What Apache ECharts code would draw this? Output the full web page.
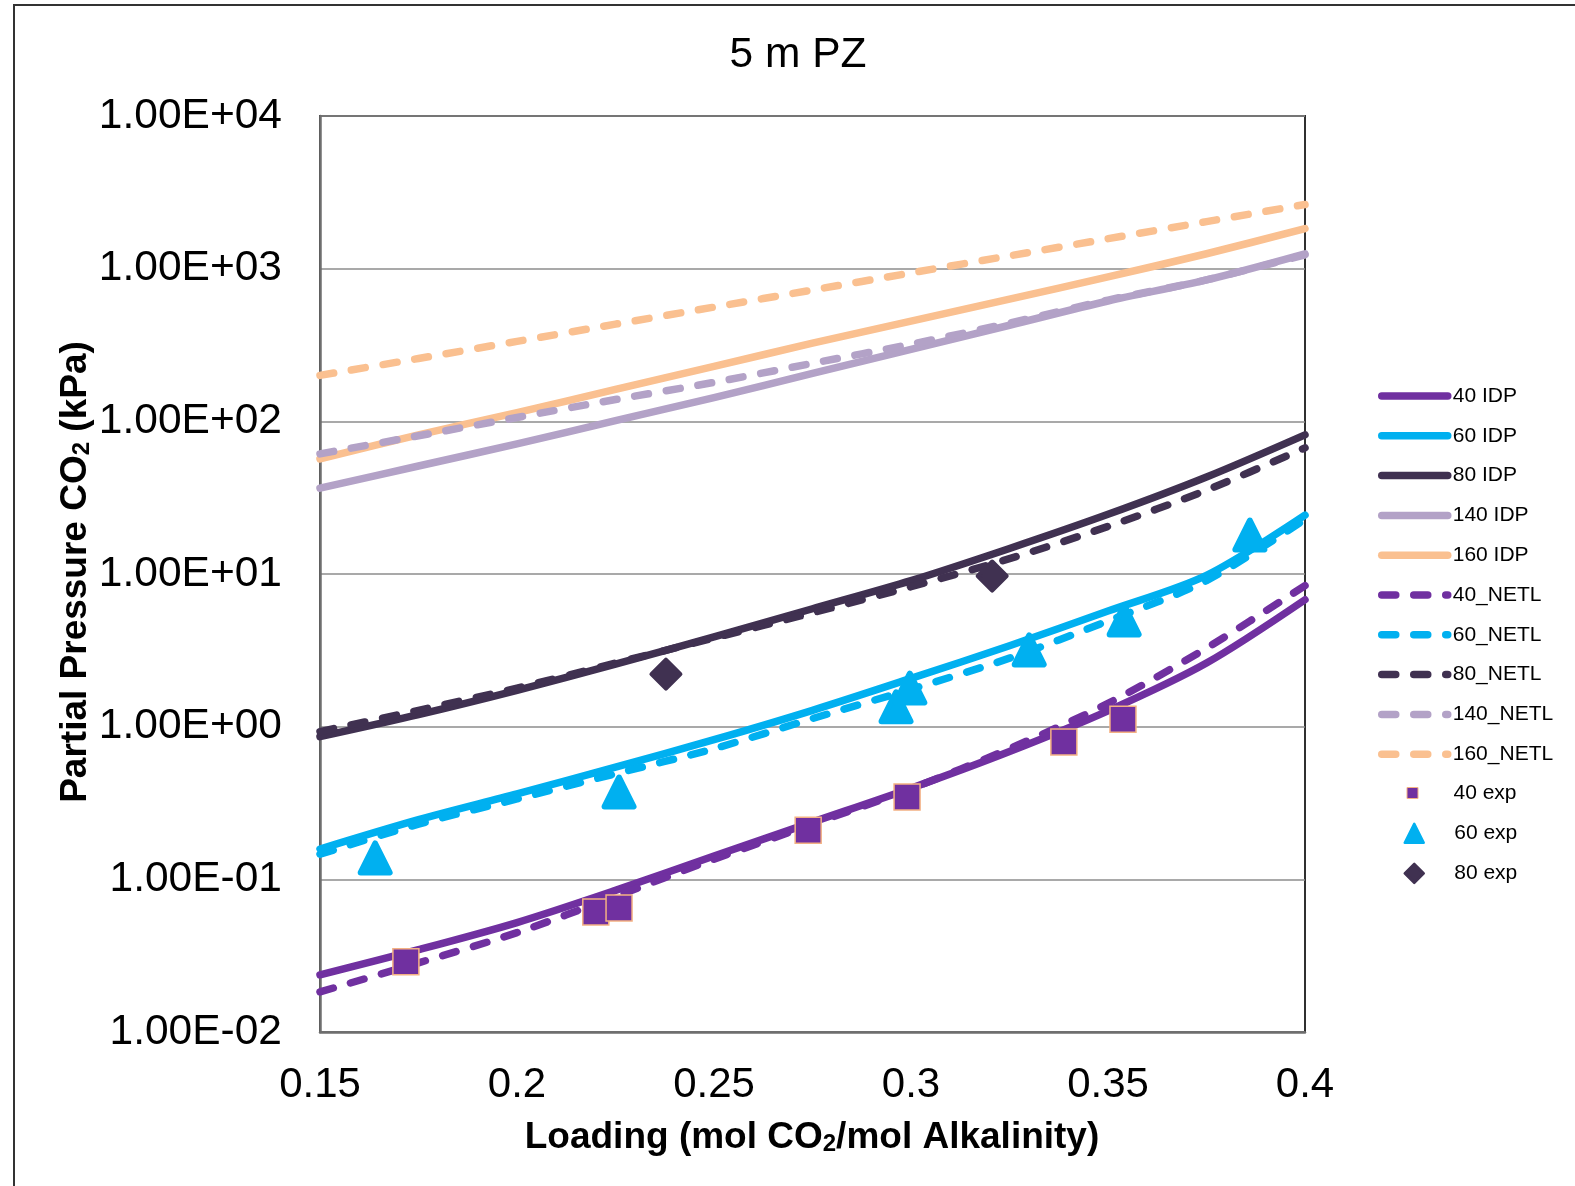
<!DOCTYPE html>
<html>
<head>
<meta charset="utf-8">
<script src="https://cdn.jsdelivr.net/npm/echarts@6/dist/echarts.min.js"></script>
<style>
  html, body { margin: 0; padding: 0; background: #fff; }
  #main { width: 1575px; height: 1186px; }
</style>
</head>
<body>
<div id="main"></div>
<script>
// loading grid for the model curves
const loading = [0.15, 0.175, 0.2, 0.225, 0.25, 0.275, 0.3, 0.325, 0.35, 0.375, 0.4];

const idp40 = [0.0237, 0.0346, 0.0521, 0.0847, 0.142, 0.237, 0.395, 0.687, 1.27, 2.61, 6.78];
const idp60 = [0.158, 0.246, 0.363, 0.543, 0.822, 1.28, 2.07, 3.39, 5.72, 9.80, 24.3];
const idp80 = [0.861, 1.20, 1.73, 2.57, 3.87, 5.92, 9.05, 14.7, 24.6, 43.2, 81.6];
const idp140 = [36.5, 51.0, 71.2, 101, 143, 206, 296, 426, 614, 844, 1252];
const idp160 = [56.7, 81.6, 114, 162, 229, 325, 453, 632, 883, 1252, 1829];

const netl40 = [0.0183, 0.0284, 0.0448, 0.0773, 0.1355, 0.230, 0.392, 0.718, 1.42, 3.27, 8.39];
const netl60 = [0.146, 0.230, 0.336, 0.492, 0.718, 1.13, 1.76, 2.81, 4.93, 9.05, 22.8];
const netl80 = [0.929, 1.28, 1.79, 2.61, 3.81, 5.57, 8.26, 12.6, 20.5, 35.4, 67.0];
const netl140 = [61.2, 80.4, 106, 139, 180, 240, 320, 440, 623, 844, 1233];
const netl160 = [200, 258, 334, 433, 560, 725, 938, 1214, 1571, 2033, 2632];

// experimental points
const exp40x = [0.1718, 0.2200, 0.2259, 0.2739, 0.2990, 0.3388, 0.3538];
const exp40y = [0.0288, 0.0611, 0.0649, 0.210, 0.346, 0.794, 1.12];
const exp60x = [0.1640, 0.2259, 0.2962, 0.2997, 0.3300, 0.3541, 0.3860];
const exp60y = [0.138, 0.373, 1.35, 1.79, 3.18, 5.00, 18.0];
const exp80x = [0.2378, 0.3206];
const exp80y = [2.21, 9.70];

const xTicks = [0.15, 0.2, 0.25, 0.3, 0.35, 0.4];

const colors = {
  t40: '#7030A0',
  t60: '#00B0F0',
  t80: '#403151',
  t140: '#B3A2C7',
  t160: '#FAC090'
};

const chart = echarts.init(document.getElementById('main'));

function pairs(xs, ys) {
  return xs.map((x, i) => [x, ys[i]]);
}

function sciLabel(v) {
  let e = Math.round(Math.log10(v));
  let sign = e < 0 ? '-' : '+';
  return '1.00E' + sign + String(Math.abs(e)).padStart(2, '0');
}

function lineSeries(name, ys, color, dashed) {
  return {
    name: name,
    type: 'line',
    data: pairs(loading, ys),
    smooth: 0.3,
    symbol: 'none',
    showSymbol: false,
    lineStyle: {
      color: color,
      width: 7.5,
      type: dashed ? [14, 18] : 'solid',
      cap: 'round',
      join: 'round'
    },
    itemStyle: { color: color },
    z: dashed ? 3 : 2,
    animation: false
  };
}

const font = 'Liberation Sans, Arial, sans-serif';
const legendText = { fontFamily: font, fontSize: 21, color: '#000' };

const option = {
  backgroundColor: '#fff',
  animation: false,
  title: {
    text: '5 m PZ',
    left: 793,
    top: 29,
    textAlign: 'center',
    textStyle: { fontFamily: font, fontSize: 42.5, fontWeight: 'normal', color: '#000' }
  },
  grid: {
    left: 320,
    top: 116,
    right: 270,
    bottom: 154,
    show: true,
    borderColor: '#303030',
    borderWidth: 2
  },
  legend: [
    {
      data: ['40 IDP', '60 IDP', '80 IDP', '140 IDP', '160 IDP',
        '40_NETL', '60_NETL', '80_NETL', '140_NETL', '160_NETL'],
      orient: 'vertical',
      left: 1373,
      top: 380.5,
      itemWidth: 66,
      itemHeight: 14,
      itemGap: 18.8,
      itemStyle: { opacity: 0 },
      lineStyle: { width: 7.5, cap: 'round' },
      textStyle: legendText
    },
    {
      data: [{ name: '40 exp', itemStyle: { borderWidth: 1 } }],
      orient: 'vertical',
      left: 1401.5,
      top: 777.5,
      itemWidth: 11,
      itemHeight: 11,
      textStyle: Object.assign({ padding: [0, 0, 0, 30.5] }, legendText)
    },
    {
      data: [{ name: '60 exp', itemStyle: { borderWidth: 2.5 } }, { name: '80 exp', itemStyle: { borderWidth: 2.5 } }],
      orient: 'vertical',
      left: 1398.5,
      top: 817.5,
      itemWidth: 19,
      itemHeight: 19,
      itemGap: 18.6,
      textStyle: Object.assign({ padding: [0, 0, 0, 25.5] }, legendText)
    }
  ],
  xAxis: {
    type: 'value',
    min: 0.15,
    max: 0.4,
    interval: 0.05,
    axisLine: { show: true, lineStyle: { color: '#6e6e6e', width: 2.5 } },
    axisTick: { show: false },
    splitLine: { show: false },
    axisLabel: {
      margin: 32,
      fontFamily: font,
      fontSize: 42,
      color: '#000',
      customValues: xTicks,
      formatter: function (v) { return String(+v.toFixed(2)); }
    }
  },
  yAxis: {
    type: 'log',
    logBase: 10,
    min: 0.01,
    max: 10000,
    axisLine: { show: true, lineStyle: { color: '#6e6e6e', width: 2.5 } },
    axisTick: { show: false },
    minorTick: { show: false },
    splitLine: { show: true, lineStyle: { color: '#8c8c8c', width: 1.5 } },
    axisLabel: {
      margin: 38,
      padding: [9, 0, 0, 0],
      fontFamily: font,
      fontSize: 42.5,
      color: '#000',
      formatter: sciLabel
    }
  },
  graphic: [
    {
      type: 'rect',
      shape: { x: 14, y: 5, width: 1700, height: 1300 },
      style: { fill: 'none', stroke: '#333', lineWidth: 2 },
      silent: true
    },
    {
      type: 'text',
      x: 72,
      y: 572,
      rotation: Math.PI / 2,
      style: {
        text: '{b|Partial Pressure CO}{s|2}{b| (kPa)}',
        align: 'center',
        verticalAlign: 'middle',
        rich: {
          b: { fontFamily: font, fontSize: 37, fontWeight: 'bold', lineHeight: 44, verticalAlign: 'bottom', fill: '#000' },
          s: { fontFamily: font, fontSize: 24, fontWeight: 'bold', lineHeight: 16, verticalAlign: 'bottom', fill: '#000' }
        }
      }
    },
    {
      type: 'text',
      x: 812,
      y: 1134,
      style: {
        text: '{b|Loading (mol CO}{s|2}{b|/mol Alkalinity)}',
        align: 'center',
        verticalAlign: 'middle',
        rich: {
          b: { fontFamily: font, fontSize: 37, fontWeight: 'bold', lineHeight: 44, verticalAlign: 'bottom', fill: '#000' },
          s: { fontFamily: font, fontSize: 24, fontWeight: 'bold', lineHeight: 16, verticalAlign: 'bottom', fill: '#000' }
        }
      }
    }
  ],
  series: [
    lineSeries('40 IDP', idp40, colors.t40, false),
    lineSeries('60 IDP', idp60, colors.t60, false),
    lineSeries('80 IDP', idp80, colors.t80, false),
    lineSeries('140 IDP', idp140, colors.t140, false),
    lineSeries('160 IDP', idp160, colors.t160, false),
    lineSeries('40_NETL', netl40, colors.t40, true),
    lineSeries('60_NETL', netl60, colors.t60, true),
    lineSeries('80_NETL', netl80, colors.t80, true),
    lineSeries('140_NETL', netl140, colors.t140, true),
    lineSeries('160_NETL', netl160, colors.t160, true),
    {
      name: '40 exp',
      type: 'scatter',
      data: pairs(exp40x, exp40y),
      symbol: 'rect',
      symbolSize: 26,
      itemStyle: { color: colors.t40, borderColor: '#F4B183', borderWidth: 1.5, opacity: 1 },
      z: 5
    },
    {
      name: '60 exp',
      type: 'scatter',
      data: pairs(exp60x, exp60y),
      symbol: 'triangle',
      symbolSize: 29,
      itemStyle: { color: colors.t60, borderColor: colors.t60, borderWidth: 6, borderJoin: 'round', opacity: 1 },
      z: 5
    },
    {
      name: '80 exp',
      type: 'scatter',
      data: pairs(exp80x, exp80y),
      symbol: 'diamond',
      symbolSize: 29,
      itemStyle: { color: colors.t80, borderColor: colors.t80, borderWidth: 4, borderJoin: 'round', opacity: 1 },
      z: 5
    }
  ]
};

chart.setOption(option);
</script>
</body>
</html>
